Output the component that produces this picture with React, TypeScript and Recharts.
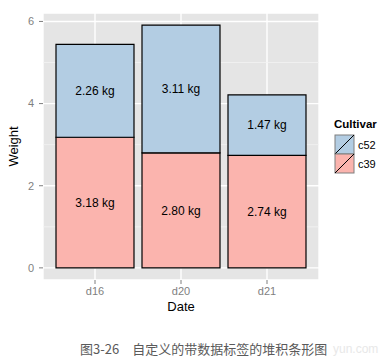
import React from "react";
import {
  BarChart,
  Bar,
  XAxis,
  YAxis,
  CartesianGrid,
  LabelList,
  Legend,
  Label,
} from "recharts";

const dates = ["d16", "d20", "d21"];
const c39Weights = [3.18, 2.8, 2.74];
const c52Weights = [2.26, 3.11, 1.47];
const cultivars = ["c52", "c39"];
const yTicks = [0, 2, 4, 6];
const yMinorTicks = [1, 3, 5];

const data = dates.map((date, i) => ({
  date,
  c39: c39Weights[i],
  c52: c52Weights[i],
}));

const colors: Record<string, string> = {
  c39: "#FBB4AE",
  c52: "#B3CDE3",
};

const FONT = "'Liberation Sans', Arial, Helvetica, sans-serif";
const kg = (v: number) => `${Number(v).toFixed(2)} kg`;

const LegendContent = () => (
  <svg width={60} height={64} style={{ fontFamily: FONT, display: "block" }}>
    <text x={3} y={13} fontSize={11.5} fontWeight="bold" fill="#000">
      Cultivar
    </text>
    {cultivars.map((c, i) => {
      const y = 20 + i * 19;
      return (
        <g key={c}>
          <rect x={4} y={y} width={19} height={19} fill={colors[c]} stroke="#7F7F7F" strokeWidth={1} />
          <line x1={4} y1={y + 19} x2={23} y2={y} stroke="#000" strokeWidth={1} />
          <text x={27} y={y + 13.5} fontSize={11} fill="#000">
            {c}
          </text>
        </g>
      );
    })}
  </svg>
);

export default function App() {
  return (
    <div style={{ position: "absolute", left: 0, top: 0, width: 389, height: 364, background: "#fff" }}>
      <BarChart
        width={389}
        height={364}
        data={data}
        margin={{ top: 13, right: 70, left: 13, bottom: 50 }}
        barCategoryGap={4}
        style={{ fontFamily: FONT }}
      >
        <CartesianGrid fill="#E5E5E5" stroke="#FFFFFF" strokeWidth={1.4} />
        <CartesianGrid
          horizontalValues={yMinorTicks}
          vertical={false}
          stroke="#F2F2F2"
          strokeWidth={0.8}
        />
        <XAxis
          dataKey="date"
          padding={{ left: 9, right: 9 }}
          axisLine={false}
          tickLine={{ stroke: "#7F7F7F" }}
          tickSize={4}
          tickMargin={3}
          tick={{ fill: "#7F7F7F", fontSize: 11 }}
          height={34}
        >
          <Label
            value="Date"
            position="insideBottom"
            offset={3}
            style={{ fill: "#000", fontSize: 13 }}
          />
        </XAxis>
        <YAxis
          width={30}
          domain={[-0.2955, 6.2055]}
          ticks={yTicks}
          axisLine={false}
          tickLine={{ stroke: "#7F7F7F" }}
          tickSize={4}
          tickMargin={5}
          tick={{ fill: "#7F7F7F", fontSize: 11 }}
          allowDataOverflow
        >
          <Label
            value="Weight"
            angle={-90}
            position="insideLeft"
            offset={0}
            style={{ fill: "#000", fontSize: 13, textAnchor: "middle" }}
          />
        </YAxis>
        <Legend
          layout="vertical"
          align="center"
          verticalAlign="middle"
          content={<LegendContent />}
          wrapperStyle={{ position: "absolute", left: 331, top: 115, width: 60 }}
        />
        <Bar dataKey="c39" stackId="a" fill={colors.c39} stroke="#000" strokeWidth={1.2} isAnimationActive={false}>
          <LabelList dataKey="c39" position="center" formatter={kg} fill="#000" fontSize={12} />
        </Bar>
        <Bar dataKey="c52" stackId="a" fill={colors.c52} stroke="#000" strokeWidth={1.2} isAnimationActive={false}>
          <LabelList dataKey="c52" position="center" formatter={kg} fill="#000" fontSize={12} />
        </Bar>
      </BarChart>
      <div
        style={{
          position: "absolute",
          left: 80,
          top: 339,
          fontFamily: "'Noto Sans CJK SC', sans-serif",
          fontSize: 13,
          color: "#5A5A5A",
          whiteSpace: "nowrap",
          lineHeight: "20px",
        }}
      >
        图3-26　自定义的带数据标签的堆积条形图
      </div>
      <div
        style={{
          position: "absolute",
          left: 333,
          top: 341,
          fontFamily: FONT,
          fontSize: 12,
          color: "#E8E8E8",
          lineHeight: "16px",
        }}
      >
        yun.com
      </div>
    </div>
  );
}
